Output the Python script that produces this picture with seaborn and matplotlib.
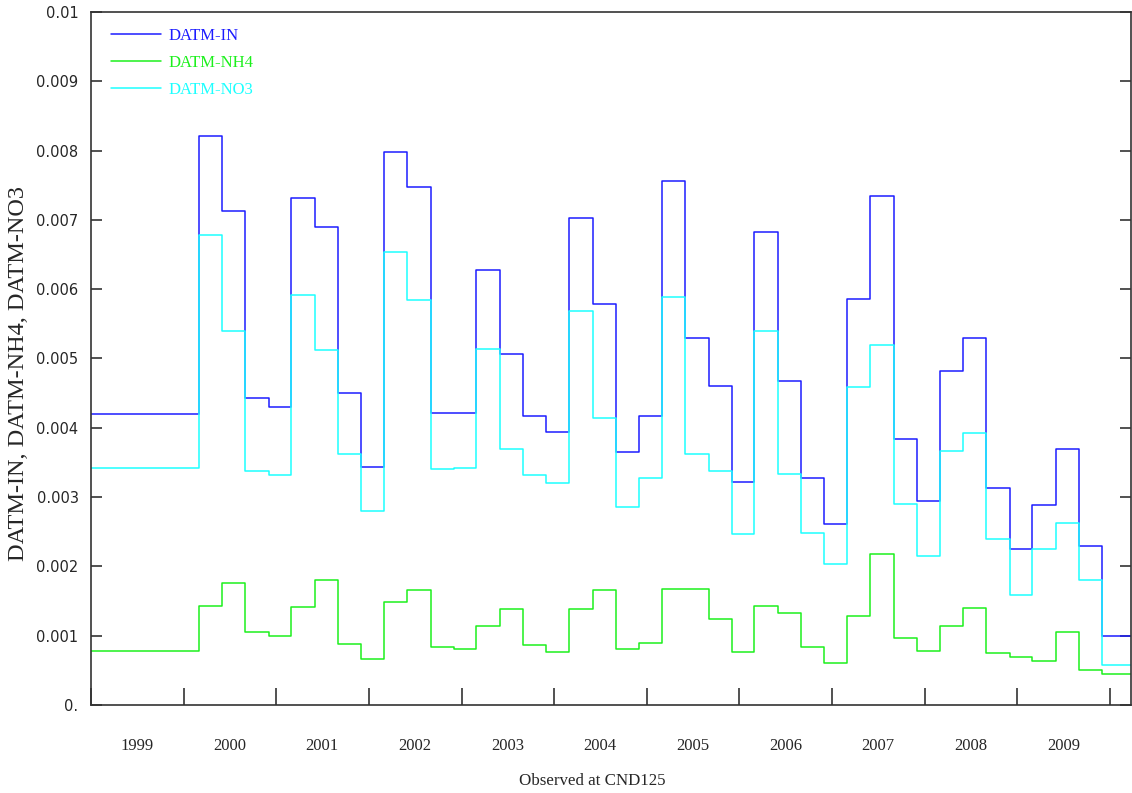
import numpy as np
import pandas as pd
import matplotlib
matplotlib.use('Agg')
import matplotlib.pyplot as plt
import matplotlib.dates as mdates
import seaborn as sns

# seasonal values (first one is held from start of 1999), units as on the chart
season_starts = ['1999-01-01'] + [f'{y}-{m:02d}-01' for y in range(2000, 2010) for m in (3, 6, 9, 12)]
end_date = '2010-03-25'

datm_in = [4.20,
           8.21, 7.13, 4.43, 4.30,
           7.31, 6.89, 4.50, 3.44,
           7.98, 7.48, 4.22, 4.22,
           6.28, 5.07, 4.17, 3.94,
           7.03, 5.79, 3.65, 4.17,
           7.56, 5.29, 4.60, 3.22,
           6.83, 4.67, 3.28, 2.61,
           5.86, 7.35, 3.84, 2.95,
           4.82, 5.29, 3.13, 2.25,
           2.88, 3.69, 2.30, 0.99]
datm_nh4 = [0.78,
            1.43, 1.76, 1.06, 0.99,
            1.41, 1.80, 0.88, 0.66,
            1.48, 1.66, 0.84, 0.81,
            1.14, 1.39, 0.86, 0.76,
            1.39, 1.66, 0.81, 0.90,
            1.68, 1.68, 1.24, 0.76,
            1.43, 1.33, 0.84, 0.61,
            1.28, 2.18, 0.96, 0.78,
            1.14, 1.40, 0.75, 0.69,
            0.63, 1.06, 0.51, 0.44]
datm_no3 = [3.42,
            6.78, 5.40, 3.37, 3.32,
            5.91, 5.12, 3.62, 2.80,
            6.53, 5.84, 3.40, 3.42,
            5.14, 3.69, 3.32, 3.20,
            5.69, 4.14, 2.86, 3.28,
            5.88, 3.62, 3.38, 2.46,
            5.39, 3.34, 2.48, 2.03,
            4.59, 5.19, 2.90, 2.15,
            3.67, 3.92, 2.40, 1.58,
            2.25, 2.63, 1.80, 0.57]

series_names = ['DATM-IN', 'DATM-NH4', 'DATM-NO3']
series_colors = ['#1c1cff', '#1cf01c', '#1cffff']
ytick_vals = [0, 0.001, 0.002, 0.003, 0.004, 0.005, 0.006, 0.007, 0.008, 0.009, 0.01]
ytick_labels = ['0.', '0.001', '0.002', '0.003', '0.004', '0.005', '0.006', '0.007', '0.008', '0.009', '0.01']

frames = []
dates = pd.to_datetime(season_starts + [end_date])
for name, vals in zip(series_names, [datm_in, datm_nh4, datm_no3]):
    v = np.array(vals + [vals[-1]]) / 1000.0
    frames.append(pd.DataFrame({'date': dates, 'value': v, 'series': name}))
df = pd.concat(frames, ignore_index=True)

sns.set_style('ticks')
plt.rcParams['font.family'] = ['DejaVu Sans']

fig = plt.figure(figsize=(11.32, 7.93), dpi=100)
ax = fig.add_axes([0.0804, 0.1110, 0.9187, 0.8739])

sns.lineplot(data=df, x='date', y='value', hue='series', hue_order=series_names,
             palette=dict(zip(series_names, series_colors)), drawstyle='steps-post',
             estimator=None, linewidth=1.1, ax=ax)

ax.set_xlim(pd.Timestamp('1999-01-01'), pd.Timestamp(end_date))
ax.set_ylim(0, 0.01)

for s in ax.spines.values():
    s.set_visible(True)
    s.set_color('#333333')
    s.set_linewidth(1.2)

# y axis
ax.set_yticks(ytick_vals)
ax.set_yticklabels(ytick_labels, fontsize=10.5, family='DejaVu Sans')
ax.tick_params(axis='y', direction='in', length=8, width=1.1, pad=9,
               left=True, right=True, color='#222222')

# x axis: ticks at year boundaries, labels at mid-year
ax.xaxis.set_major_locator(mdates.YearLocator())
ax.xaxis.set_major_formatter(plt.NullFormatter())
ax.xaxis.set_minor_locator(mdates.YearLocator(month=7, day=1))
ax.xaxis.set_minor_formatter(mdates.DateFormatter('%Y'))
ax.tick_params(axis='x', which='major', direction='in', length=12, width=1.1,
               top=False, color='#222222')
ax.tick_params(axis='x', which='minor', length=0, pad=24, labelsize=12)
for lab in ax.get_xticklabels(minor=True):
    lab.set_family('Liberation Serif')

ax.set_xlabel('Observed at CND125', family='Liberation Serif', fontsize=12.2)
ax.xaxis.set_label_coords(0.4817, -0.0975)
ax.set_ylabel('DATM-IN, DATM-NH4, DATM-NO3', family='Liberation Serif', fontsize=17.5)
ax.yaxis.set_label_coords(-0.0596, 0.478)

handles, labels = ax.get_legend_handles_labels()
leg = ax.legend(handles, labels, loc='upper left', bbox_to_anchor=(0.0115, 0.989),
                frameon=False, borderpad=0, handlelength=3.0, handletextpad=0.45,
                labelspacing=0.65, labelcolor='linecolor',
                prop={'family': 'Liberation Serif', 'size': 12})

fig.savefig('out.png', dpi=100)
